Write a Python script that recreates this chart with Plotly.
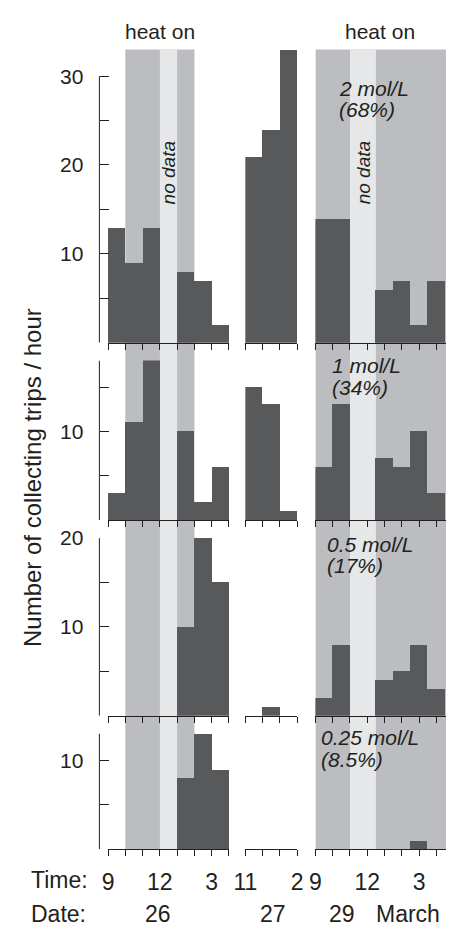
import plotly.graph_objects as go

# ---- data -------------------------------------------------------------
# bin start hours for each observation day
hours_26 = [9, 10, 11, 12, 13, 14, 15]
hours_27 = [11, 12, 13]
hours_29 = [9, 10, 12.5, 13.5, 14.5, 15.5]

# collecting trips per hour, one list per sugar concentration
trips_26 = {
    "2": [13, 9, 13, None, 8, 7, 2],
    "1": [3, 11, 18, None, 10, 2, 6],
    "0.5": [0, 0, 0, None, 10, 20, 15],
    "0.25": [0, 0, 0, None, 8, 13, 9],
}
trips_27 = {
    "2": [21, 24, 33],
    "1": [15, 13, 1],
    "0.5": [0, 1, 0],
    "0.25": [0, 0, 0],
}
trips_29 = {
    "2": [14, 14, 6, 7, 2, 7],
    "1": [6, 13, 7, 6, 10, 3],
    "0.5": [2, 8, 4, 5, 8, 3],
    "0.25": [0, 0, 0, 0, 1, 0],
}

concentrations = ["2", "1", "0.5", "0.25"]
conc_labels = ["2 mol/L", "1 mol/L", "0.5 mol/L", "0.25 mol/L"]
pct_labels = ["(68%)", "(34%)", "(17%)", "(8.5%)"]

# y axis extent and ticks per row
y_max = [33, 18, 20, 13]
y_line_top = [30, 18, 20, 13]
y_ticks = [[0, 5, 10, 15, 20, 25, 30], [0, 5, 10, 15], [0, 5, 10, 15, 20], [0, 5, 10]]
y_labelled = [10, 20, 30]

# heating / missing-data periods (hours)
heat_on_26 = (10, 14)
no_data_26 = (12, 13)
heat_on_29 = (9, 16.6)
no_data_29 = (11, 12.5)

# time axis labels
time_ticks_26 = {9: "9", 12: "12", 15: "3"}
time_ticks_27 = {11: "11", 14: "2"}
time_ticks_29 = {9: "9", 12: "12", 15: "3"}
date_labels = [("26", 152), ("27", 272), ("29", 344), ("March", 412)]

# ---- layout geometry (pixels) ----------------------------------------
W, H = 452, 926
col_px = [(100, 226), (243, 297), (316, 452)]
col_range = [(9, 16), (11, 14), (9, 9 + (452 - 316) / 18)]
row_px = [(38, 335), (353, 515), (533, 713), (731, 848)]
yaxis_x_px = 91

DARK = "#58595b"
HEAT = "#bcbdc0"
NODATA = "#e6e7e9"
INK = "#231f20"
FONT = "Liberation Sans"


def px_x(p):
    return p / W


def px_y(p):
    return 1 - p / H


fig = go.Figure()
layout = {}

days = [(hours_26, trips_26), (hours_27, trips_27), (hours_29, trips_29)]
tick_labels = [time_ticks_26, time_ticks_27, time_ticks_29]

for r in range(4):
    for c in range(3):
        n = r * 3 + c + 1
        xa = "xaxis" if n == 1 else f"xaxis{n}"
        ya = "yaxis" if n == 1 else f"yaxis{n}"
        xr = "x" if n == 1 else f"x{n}"
        yr = "y" if n == 1 else f"y{n}"
        hours, trips = days[c]
        fig.add_trace(
            go.Bar(
                x=hours,
                y=trips[concentrations[r]],
                width=1,
                offset=0,
                marker=dict(color=DARK, line=dict(width=0)),
                xaxis=xr,
                yaxis=yr,
                showlegend=False,
                hoverinfo="skip",
            )
        )
        lo, hi = col_range[c]
        ticks_all = list(range(int(lo), int(hi) + 1))
        bottom = r == 3
        labels = tick_labels[c]
        layout[xa] = dict(
            domain=[px_x(col_px[c][0]), px_x(col_px[c][1])],
            range=[lo, hi],
            anchor=yr,
            showline=True,
            linecolor=INK,
            linewidth=1,
            ticks="outside",
            ticklen=6,
            tickwidth=1,
            tickcolor=INK,
            tickvals=ticks_all,
            ticktext=[labels.get(h, "") for h in ticks_all],
            showticklabels=bottom,
            tickfont=dict(family=FONT, size=23, color=INK),
            ticklabelstandoff=6,
            showgrid=False,
            zeroline=False,
            fixedrange=True,
        )
        yd = [px_y(row_px[r][1]), px_y(row_px[r][0])]
        if c == 0:
            layout[ya] = dict(
                domain=yd,
                range=[0, y_max[r]],
                anchor="free",
                position=px_x(yaxis_x_px),
                showline=False,
                ticks="inside",
                ticklen=9,
                tickwidth=1,
                tickcolor=INK,
                tickvals=y_ticks[r],
                ticktext=[str(v) if v in y_labelled else "" for v in y_ticks[r]],
                tickfont=dict(family=FONT, size=21, color=INK),
                ticklabelstandoff=16,
                showgrid=False,
                zeroline=False,
                fixedrange=True,
            )
        else:
            layout[ya] = dict(
                domain=yd,
                range=[0, y_max[r]],
                anchor=xr,
                visible=False,
                fixedrange=True,
            )

shapes = []
# shaded periods span every row of a day column
for xref, (h0, h1), color in [
    ("x", heat_on_26, HEAT),
    ("x", no_data_26, NODATA),
    ("x3", heat_on_29, HEAT),
    ("x3", no_data_29, NODATA),
]:
    shapes.append(
        dict(
            type="rect",
            xref=xref,
            yref="paper",
            x0=h0,
            x1=h1,
            y0=px_y(row_px[3][1]),
            y1=px_y(row_px[0][0]),
            fillcolor=color,
            line=dict(width=0),
            layer="below",
        )
    )

# y axis lines (stop at the top labelled value)
for r in range(4):
    n = r * 3 + 1
    yr = "y" if n == 1 else f"y{n}"
    shapes.append(
        dict(
            type="line",
            xref="paper",
            yref=yr,
            x0=px_x(yaxis_x_px),
            x1=px_x(yaxis_x_px),
            y0=0,
            y1=y_line_top[r],
            line=dict(color=INK, width=1),
        )
    )

annotations = []


def text(t, x, y, size=21, italic=False, xanchor="center", angle=0):
    annotations.append(
        dict(
            text=f"<i>{t}</i>" if italic else t,
            x=px_x(x),
            y=px_y(y),
            xref="paper",
            yref="paper",
            xanchor=xanchor,
            yanchor="middle",
            showarrow=False,
            textangle=angle,
            font=dict(family=FONT, size=size, color=INK),
        )
    )


text("heat on", 154, 20)
text("heat on", 383, 20)
text("no data", 163, 163, size=19, italic=True, angle=-90)
text("no data", 366, 163, size=19, italic=True, angle=-90)

conc_pos = [(338, 77, 99), (331, 358, 380), (326, 539, 561), (320, 735, 757)]
for (x, y1, y2), cl, pl in zip(conc_pos, conc_labels, pct_labels):
    text(cl, x, y1, italic=True, xanchor="left")
    text(pl, x, y2, italic=True, xanchor="left")

text("Number of collecting trips / hour", 22, 472, size=24, angle=-90)
text("Time:", 18, 879, size=23, xanchor="left")
text("Date:", 18, 914, size=23, xanchor="left")
for label, x in date_labels:
    text(label, x, 914, size=23)

fig.update_layout(
    width=W,
    height=H,
    autosize=False,
    margin=dict(l=0, r=0, t=0, b=0, pad=0),
    paper_bgcolor="white",
    plot_bgcolor="rgba(0,0,0,0)",
    bargap=0,
    shapes=shapes,
    annotations=annotations,
    **layout,
)

fig.write_html("out.html", config={"displayModeBar": False})
